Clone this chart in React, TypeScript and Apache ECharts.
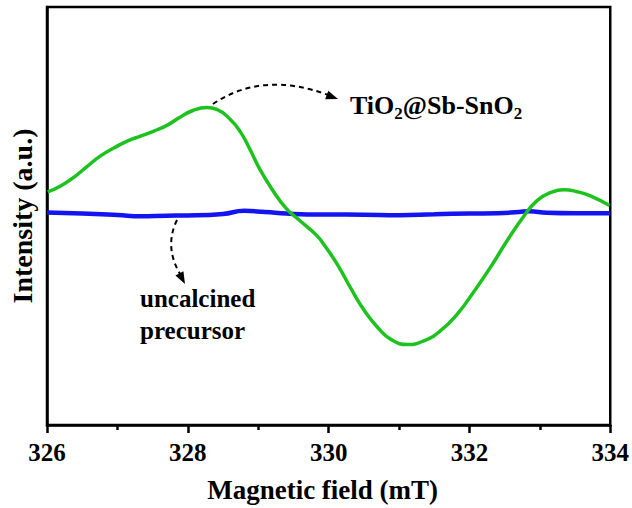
import React, { useEffect, useRef } from "react";
import * as echarts from "echarts";

// Magnetic field (mT) and intensity (a.u.)
const greenField = [326.01, 326.2, 326.39, 326.58, 326.76, 326.95, 327.14, 327.33, 327.52, 327.71, 327.89, 328.08, 328.27, 328.41, 328.6, 328.74, 328.88, 329.02, 329.21, 329.4, 329.59, 329.83, 329.94, 330.13, 330.32, 330.51, 330.7, 330.89, 331.12, 331.36, 331.59, 331.83, 332.06, 332.3, 332.53, 332.77, 332.96, 333.15, 333.34, 333.53, 333.71, 333.99];
const greenIntensity = [21.7, 28, 37, 48, 58, 66, 73, 78, 83, 89, 97, 104, 106.7, 105, 95, 83, 65, 45, 23, 5, -7, -22, -32, -52, -76, -98, -115, -127, -132, -128, -118, -101, -79, -54, -28, -3, 13, 21, 24, 22, 18, 8];

const blueField = [326.0, 326.5, 327.0, 327.33, 327.7, 328.0, 328.5, 328.8, 329.1, 329.4, 329.7, 330.0, 330.5, 331.0, 331.5, 332.0, 332.4, 332.7, 332.85, 333.1, 333.5, 334.0];
const blueIntensity = [1, 0, -1.5, -2.7, -2.2, -2, -0.5, 2.7, 1.5, 0, -1, -1, -1.2, -1.7, -0.8, 0, 0.3, 1.5, 2.3, 0.8, 0.3, 0.3];

const xTicks = { min: 326, max: 334, interval: 2 };
const yRange = { min: -213, max: 208 };

const FONT = "Liberation Serif";

export default function App() {
  const ref = useRef<HTMLDivElement>(null);
  useEffect(() => {
    if (!ref.current) return;
    const chart = echarts.init(ref.current, undefined, { renderer: "svg" });
    const green = greenField.map((x, i) => [x, greenIntensity[i]]);
    const blue = blueField.map((x, i) => [x, blueIntensity[i]]);

    const head = (tx: number, ty: number, dx: number, dy: number) => {
      const n = Math.hypot(dx, dy);
      const ux = dx / n, uy = dy / n;
      const L = 12, W = 4.5;
      const bx = tx - ux * L, by = ty - uy * L;
      return [[tx, ty], [bx - uy * W, by + ux * W], [bx + uy * W, by - ux * W]];
    };

    chart.setOption({
      animation: false,
      backgroundColor: "#ffffff",
      textStyle: { fontFamily: FONT, fontWeight: "bold", color: "#000" },
      grid: {
        left: 46, right: 20, top: 7, bottom: 80,
        show: true, borderColor: "#000", borderWidth: 2.5, backgroundColor: "transparent",
      },
      xAxis: {
        type: "value",
        position: "bottom",
        min: xTicks.min, max: xTicks.max, interval: xTicks.interval,
        name: "Magnetic field (mT)",
        nameLocation: "middle",
        nameGap: 51,
        nameTextStyle: { fontFamily: FONT, fontWeight: "bold", fontSize: 27, color: "#000", padding: [0, 12, 0, 0] },
        axisLine: { onZero: false, lineStyle: { color: "#000", width: 2.5 } },
        axisTick: { show: true, inside: false, length: 8, lineStyle: { color: "#000", width: 2.5 } },
        minorTick: { show: true, splitNumber: 2, length: 5, lineStyle: { color: "#000", width: 2.5 } },
        axisLabel: { fontFamily: FONT, fontWeight: "bold", fontSize: 25, color: "#000", margin: 15 },
        splitLine: { show: false },
        minorSplitLine: { show: false },
      },
      yAxis: {
        type: "value",
        position: "left",
        min: yRange.min, max: yRange.max,
        name: "Intensity (a.u.)",
        nameLocation: "middle",
        nameGap: 11,
        nameTextStyle: { fontFamily: FONT, fontWeight: "bold", fontSize: 28, color: "#000" },
        axisLine: { onZero: false, lineStyle: { color: "#000", width: 2.5 } },
        axisTick: { show: false },
        axisLabel: { show: false },
        splitLine: { show: false },
      },
      series: [
        {
          type: "line", data: blue, smooth: 0.5, symbol: "none",
          lineStyle: { color: "#1414f0", width: 4.5 },
        },
        {
          type: "line", data: green, smooth: 0.5, symbol: "none",
          lineStyle: { color: "#1ec21e", width: 3.5 },
        },
      ],
      graphic: [
        {
          type: "bezierCurve",
          shape: { x1: 213, y1: 104, cpx1: 262.5, cpy1: 70.5, x2: 328, y2: 95 },
          style: { stroke: "#000", lineWidth: 2, lineDash: [5, 4], fill: null },
        },
        {
          type: "polygon",
          shape: { points: head(338, 99, 67.5, 24.5) },
          style: { fill: "#000" },
        },
        {
          type: "bezierCurve",
          shape: { x1: 177, y1: 220, cpx1: 164, cpy1: 246.5, x2: 180, y2: 274 },
          style: { stroke: "#000", lineWidth: 2, lineDash: [5, 4], fill: null },
        },
        {
          type: "polygon",
          shape: { points: head(185, 284, 15, 28.5) },
          style: { fill: "#000" },
        },
        {
          type: "text",
          left: 350, top: 88,
          style: {
            text: "TiO{s|2}@Sb-SnO{s|2}",
            fontFamily: FONT, fontWeight: "bold", fontSize: 26, fill: "#000",
            lineHeight: 26,
            rich: {
              s: { fontFamily: FONT, fontWeight: "bold", fontSize: 17, lineHeight: 34, verticalAlign: "bottom" },
            },
          },
        },
        {
          type: "text",
          left: 140, top: 282,
          style: {
            text: "uncalcined\nprecursor",
            fontFamily: FONT, fontWeight: "bold", fontSize: 25, fill: "#000",
            lineHeight: 32,
          },
        },
      ],
    });
    return () => chart.dispose();
  }, []);
  return <div ref={ref} style={{ position: "fixed", left: 0, top: 0, width: 632, height: 508 }} />;
}
